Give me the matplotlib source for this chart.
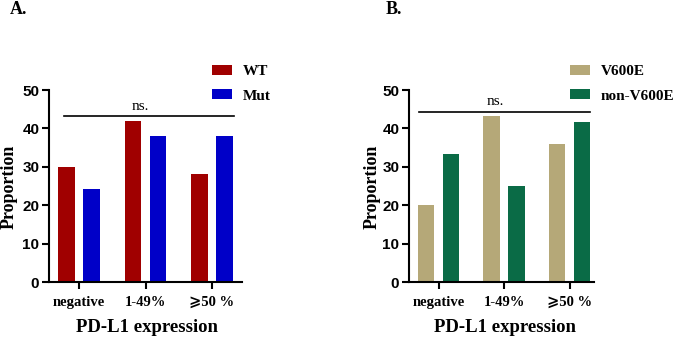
import numpy as np
import matplotlib
matplotlib.use("Agg")
from matplotlib import pyplot as plt

categories = ["negative", "1-49%", "⩾50 %"]
wt = [30.0, 41.8, 28.2]
mut = [24.3, 37.9, 37.9]
v600e = [20.0, 43.2, 36.0]
non_v600e = [33.4, 25.1, 41.7]

serif = ["Liberation Serif", "DejaVu Serif", "DejaVu Sans"]
sans = ["Liberation Sans", "DejaVu Sans"]

W, H = 674, 340
fig = plt.figure(figsize=(W / 100, H / 100), dpi=100)


def px_axes(left, right, top, bottom):
    return fig.add_axes([left / W, 1 - bottom / H, (right - left) / W, (bottom - top) / H])


def draw_panel(ax, s1, s2, c1, c2, names, xmax, ns_x, ns_span, ns_y):
    x = np.arange(len(categories))
    ax.bar(x - 0.19, s1, 0.25, color=c1, label=names[0])
    ax.bar(x + 0.19, s2, 0.25, color=c2, label=names[1])
    ax.set_xlim(-0.45, xmax)
    ax.set_ylim(0, 50)
    ax.set_yticks([0, 10, 20, 30, 40, 50])
    ax.set_xticks(x)
    ax.set_xticklabels(categories, family=serif, fontweight="bold", fontsize=10.5)
    for lab in ax.get_yticklabels():
        lab.set_family(sans)
        lab.set_fontweight("bold")
        lab.set_fontsize(11)
    for s in ["top", "right"]:
        ax.spines[s].set_visible(False)
    for s in ["left", "bottom"]:
        ax.spines[s].set_linewidth(1.5)
    ax.tick_params(axis="y", width=1.5, length=5, pad=2)
    ax.tick_params(axis="x", width=1.5, length=5, pad=5)
    # 显著性横线
    ax.plot(ns_span, [ns_y, ns_y], color="black", lw=1.2, clip_on=False)
    ax.text(ns_x, ns_y + 0.8, "ns.", family=serif, fontsize=11, ha="center", va="bottom")


ax1 = px_axes(49, 242, 90, 282)
draw_panel(ax1, wt, mut, "#A00000", "#0000C8", ["WT", "Mut"], 2.45, 0.92, [-0.23, 2.33], 43.3)
ax2 = px_axes(409, 594, 90, 282)
draw_panel(ax2, v600e, non_v600e, "#B5A878", "#0A6B46", ["V600E", "non-V600E"], 2.37, 0.87, [-0.29, 2.31], 44.4)

for ax, lx in [(ax1, 212), (ax2, 570)]:
    ax.legend(loc="upper left", bbox_to_anchor=(lx / W, 1 - 65 / H), bbox_transform=fig.transFigure,
              frameon=False, borderpad=0, borderaxespad=0, labelspacing=0.7, handletextpad=0.7,
              handlelength=1.3, handleheight=0.65,
              prop={"family": serif, "weight": "bold", "size": 11})

fig.text(10 / W, 1 - 10 / H, "A.", family=serif, fontweight="bold", fontsize=13, va="center")
fig.text(386 / W, 1 - 10 / H, "B.", family=serif, fontweight="bold", fontsize=13, va="center")
for x in [9, 372]:
    fig.text(x / W, 1 - 187 / H, "Proportion", family=serif, fontweight="bold", fontsize=13,
             rotation=90, ha="center", va="center")
for x in [147, 505]:
    fig.text(x / W, 1 - 328 / H, "PD-L1 expression", family=serif, fontweight="bold", fontsize=13.5,
             ha="center", va="center")

fig.savefig("out.png", dpi=100)
